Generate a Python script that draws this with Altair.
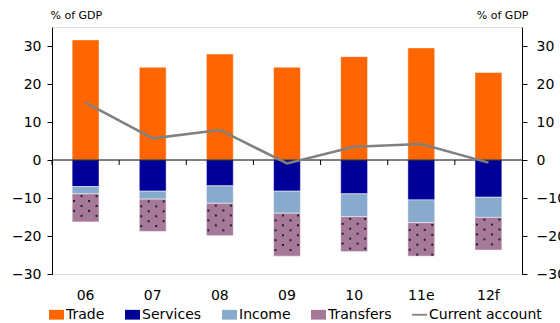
import altair as alt
import pandas as pd

years = ["06", "07", "08", "09", "10", "11e", "12f"]
trade = [31.6, 24.4, 27.9, 24.4, 27.2, 29.5, 23.0]
services = [-7.0, -8.2, -6.8, -8.2, -8.9, -10.5, -9.8]
income = [-1.9, -2.1, -4.6, -5.8, -6.0, -6.0, -5.3]
transfers = [-7.4, -8.5, -8.5, -11.3, -9.2, -8.8, -8.6]
current = [15.1, 5.7, 7.9, -0.9, 3.5, 4.2, -0.7]

series_names = ["Trade", "Services", "Income", "Transfers", "Current account"]
series_colors = ["#FF6600", "#000099", "#88AACC", "#A6789A", "#808080"]

FONT = "DejaVu Sans"

rows = []
for i, y in enumerate(years):
    for order, (name, vals) in enumerate(
        [("Trade", trade), ("Services", services), ("Income", income), ("Transfers", transfers)]
    ):
        rows.append({"year": y, "series": name, "value": vals[i], "ord": order})
bars_df = pd.DataFrame(rows)
line_df = pd.DataFrame({"year": years, "value": current})
legend_df = pd.DataFrame({"series": series_names})

# dot texture for the Transfers segments (derived from the data)
dots = []
for i, y in enumerate(years):
    top = services[i] + income[i]
    bot = top + transfers[i]
    v = top - 0.6
    k = 0
    while v > bot + 0.3:
        dots.append({"year": y, "y": v, "row": k % 2})
        v -= 1.3
        k += 1
dots_df = pd.DataFrame(dots)

yscale = alt.Scale(domain=[-30, 35], nice=False, zero=False)
xscale = alt.Scale(domain=years, paddingInner=0, paddingOuter=0)
xaxis = alt.Axis(title=None, domain=False, ticks=False, labelAngle=0, labelPadding=14,
                 labelFontSize=14, labelColor="black", labelFont=FONT)
X = alt.X("year:N", sort=years, scale=xscale, axis=xaxis)

color_scale = alt.Scale(domain=series_names, range=series_colors)
rect = "M-1,-0.65L1,-0.65L1,0.65L-1,0.65Z"
stroke_shape = "M-1,-0.12L1,-0.12L1,0.12L-1,0.12Z"
shape_scale = alt.Scale(domain=series_names, range=[rect, rect, rect, rect, stroke_shape])

tick_vals = [-30, -20, -10, 0, 10, 20, 30]

def yaxis(orient, title_x, align, pad):
    return alt.Axis(orient=orient, values=tick_vals, grid=False, tickSize=5,
                    domainColor="black", tickColor="black", labelColor="black",
                    labelFontSize=14, labelFont=FONT, labelPadding=pad,
                    title="% of GDP", titleAngle=0, titleX=title_x, titleY=-12,
                    titleAlign=align, titleBaseline="middle", titleFontSize=11,
                    titleFontWeight="normal", titleFont=FONT, titleColor="black")

def make_legend():
    return alt.Legend(
        title=None, orient="none", direction="horizontal", legendX=-3, legendY=280,
        symbolSize=225, symbolOpacity=1, symbolStrokeWidth=0, labelFontSize=14, labelFont=FONT,
        labelColor="black", labelOffset=2, columnPadding=20, padding=0)

bars = alt.Chart(bars_df).mark_bar(width=alt.RelativeBandSize(0.4), stroke="white",
                                   strokeWidth=0.8, strokeOpacity=0.6).encode(
    x=X,
    y=alt.Y("value:Q", stack="zero", scale=yscale, axis=yaxis("left", -2, "left", 6)),
    color=alt.Color("series:N", scale=color_scale, legend=make_legend()),
    order=alt.Order("ord:Q"),
)

dot_layers = []
for parity, offsets in [(0, [-4, 11]), (1, [-11.5, 3.5])]:
    for dx in offsets:
        dot_layers.append(
            alt.Chart(dots_df).transform_filter(alt.datum.row == parity)
            .mark_square(size=4, color="#222222", opacity=1, xOffset=dx)
            .encode(x=X, y=alt.Y("y:Q", scale=yscale, axis=None))
        )

zero_rule = alt.Chart(pd.DataFrame({"v": [0]})).mark_rule(color="black", strokeWidth=1).encode(
    y=alt.Y("v:Q", scale=yscale, axis=None)
)

tick_rules = alt.Chart(pd.DataFrame({"year": years})).mark_rule(color="black", strokeWidth=1).encode(
    x=alt.X("year:N", sort=years, scale=xscale, axis=xaxis, bandPosition=0),
    y=alt.YDatum(0, scale=yscale, axis=None),
    y2=alt.Y2Datum(-1.32),
)

line = alt.Chart(line_df).mark_line(color="#808080", strokeWidth=2.5).encode(
    x=X,
    y=alt.Y("value:Q", scale=yscale, axis=yaxis("right", 6, "right", 9)),
)

legend_pts = alt.Chart(legend_df).mark_point(filled=True, opacity=0, size=10).encode(
    color=alt.Color("series:N", scale=color_scale, legend=make_legend()),
    shape=alt.Shape("series:N", scale=shape_scale, legend=make_legend()),
)

chart = alt.layer(bars, *dot_layers, zero_rule, tick_rules, line, legend_pts).resolve_scale(
    y="independent"
).properties(
    width=470, height=247,
    autosize=alt.AutoSizeParams(type="none"),
    padding={"left": 52, "top": 27, "right": 38, "bottom": 49},
).configure_view(stroke=None).configure(font=FONT)

chart.save("out.html", embed_options={"renderer": "svg", "actions": False})
